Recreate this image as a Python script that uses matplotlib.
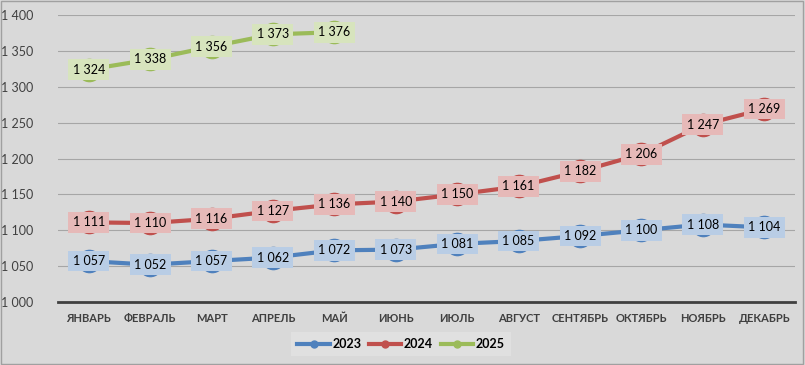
import matplotlib.pyplot as plt
from matplotlib.patches import Rectangle

months = ['ЯНВАРЬ', 'ФЕВРАЛЬ', 'МАРТ', 'АПРЕЛЬ', 'МАЙ', 'ИЮНЬ', 'ИЮЛЬ',
          'АВГУСТ', 'СЕНТЯБРЬ', 'ОКТЯБРЬ', 'НОЯБРЬ', 'ДЕКАБРЬ']
y2023 = [1057, 1052, 1057, 1062, 1072, 1073, 1081, 1085, 1092, 1100, 1108, 1104]
y2024 = [1111, 1110, 1116, 1127, 1136, 1140, 1150, 1161, 1182, 1206, 1247, 1269]
y2025 = [1324, 1338, 1356, 1373, 1376]
yticks = [1000, 1050, 1100, 1150, 1200, 1250, 1300, 1350, 1400]

series = [
    ('2023', y2023, '#4f81bd', '#b9cde5'),
    ('2024', y2024, '#c0504d', '#e6b9b8'),
    ('2025', y2025, '#9bbb59', '#d7e4bd'),
]

def fmt(v):
    return '{:,}'.format(v).replace(',', ' ')

plt.rcParams['font.family'] = ['Lato', 'DejaVu Sans']

fig = plt.figure(figsize=(8.05, 3.65), dpi=100)
fig.patch.set_facecolor('#d9d9d9')
fig.patches.append(Rectangle((0.001, 0.002), 0.997, 0.995, transform=fig.transFigure,
                             fill=False, edgecolor='#a0a0a0', lw=1))
ax = fig.add_axes([58 / 805, 63 / 365, 737 / 805, 287 / 365])
ax.set_facecolor('#d9d9d9')

x = list(range(len(months)))
for name, vals, col, lab in series:
    xs = x[:len(vals)]
    ax.plot(xs, vals, color=col, lw=3, marker='o', ms=16, mfc=col, mec=col,
            label=name, zorder=3)
    for xi, v in zip(xs, vals):
        ax.text(xi, v, fmt(v), ha='center', va='center', fontsize=9,
                color='black', zorder=4,
                bbox=dict(boxstyle='square,pad=0.35', fc=lab, ec='none'))

ax.set_xlim(-0.5, len(months) - 0.5)
ax.set_ylim(1000, 1400)
ax.set_yticks(yticks)
ax.set_yticklabels([fmt(v) for v in yticks], fontsize=9, color='#404040')
ax.set_xticks(x)
ax.set_xticklabels(months, fontsize=8, color='#404040', fontweight='bold')
ax.tick_params(axis='both', length=0)
ax.tick_params(axis='x', pad=8)
ax.tick_params(axis='y', pad=18)
ax.grid(axis='y', color='#a6a6a6', lw=0.8)
ax.set_axisbelow(True)
for s in ['top', 'right', 'left']:
    ax.spines[s].set_visible(False)
ax.spines['bottom'].set_color('#404040')
ax.spines['bottom'].set_linewidth(2)

leg = fig.legend(loc='center', bbox_to_anchor=(401 / 805, 1 - 344 / 365), ncol=3,
                 frameon=True, fontsize=9, handlelength=2.6, columnspacing=0.6,
                 handletextpad=0.2, borderpad=0.5, fancybox=False)
leg.get_frame().set_facecolor('#e3e3e3')
leg.get_frame().set_edgecolor('none')
for line in leg.get_lines():
    line.set_markersize(5)
for t in leg.get_texts():
    t.set_fontweight('bold')

fig.savefig('out.png', dpi=100, facecolor=fig.get_facecolor())
